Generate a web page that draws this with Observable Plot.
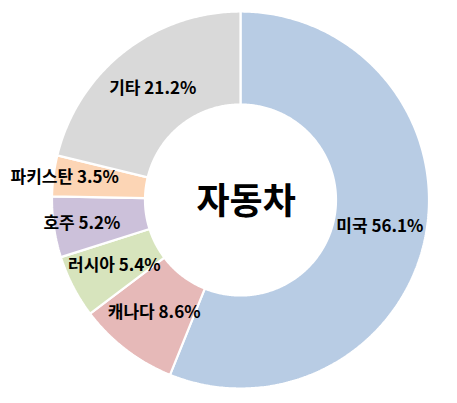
<!DOCTYPE html>
<html>
<head>
<meta charset="utf-8">
<script src="https://cdn.jsdelivr.net/npm/d3@7"></script>
<script src="https://cdn.jsdelivr.net/npm/@observablehq/plot@0.6"></script>
<style>
  html, body { margin: 0; padding: 0; background: #fff; }
  #chart { width: 457px; height: 403px; }
</style>
</head>
<body>
<div id="chart"></div>
<script>
// ---- data ----
const countries = ["미국", "캐나다", "러시아", "호주", "파키스탄", "기타"];
const shares = [56.1, 8.6, 5.4, 5.2, 3.5, 21.2];
const centerTitle = "자동차";

// ---- styles / layout ----
const colors = ["#b8cce4", "#e6b9b8", "#d7e4bd", "#ccc1da", "#fcd5b5", "#d9d9d9"];
const W = 457, H = 403;
const cx = 240, cy = 199.5, R = 188.5;
const innerRatio = 95.5 / 188.5;
const labelRadiusOverride = {"호주": 0.85, "파키스탄": 0.94};

const rows = countries.map((c, i) => ({country: c, share: shares[i], color: colors[i]}));
const pie = d3.pie().sort(null).value(d => d.share)(rows);

const polys = [];
const labels = [];
pie.forEach(p => {
  const n = Math.max(8, Math.ceil((p.endAngle - p.startAngle) / 0.01));
  const pts = [];
  for (let k = 0; k <= n; k++) {
    const a = p.startAngle + (p.endAngle - p.startAngle) * k / n;
    pts.push([Math.sin(a), Math.cos(a)]);
  }
  for (let k = n; k >= 0; k--) {
    const a = p.startAngle + (p.endAngle - p.startAngle) * k / n;
    pts.push([innerRatio * Math.sin(a), innerRatio * Math.cos(a)]);
  }
  pts.forEach(([x, y], j) => polys.push({country: p.data.country, color: p.data.color, x, y, j}));
  const mid = (p.startAngle + p.endAngle) / 2;
  const lr = labelRadiusOverride[p.data.country] ?? (1 + innerRatio) / 2;
  labels.push({
    text: `${p.data.country} ${p.data.share.toFixed(1)}%`,
    x: lr * Math.sin(mid),
    y: lr * Math.cos(mid)
  });
});

const chart = Plot.plot({
  width: W,
  height: H,
  margin: 0,
  style: {background: "#fff", overflow: "visible"},
  x: {domain: [-1, 1], range: [cx - R, cx + R], axis: null},
  y: {domain: [-1, 1], range: [cy + R, cy - R], axis: null},
  marks: [
    Plot.line(polys, {
      x: "x", y: "y", z: "country",
      fill: d => d.color,
      stroke: "#ffffff",
      strokeWidth: 2.2,
      strokeLinejoin: "miter",
      curve: "linear-closed"
    }),
    Plot.text(labels, {
      x: "x", y: "y", text: "text",
      fontSize: 17,
      fontWeight: "bold",
      fontFamily: "'Noto Sans CJK KR', 'Noto Sans', sans-serif",
      fill: "#000"
    }),
    Plot.text([centerTitle], {
      x: () => 0.03, y: () => -0.015, text: d => d,
      fontSize: 36,
      fontWeight: "bold",
      fontFamily: "'Noto Sans CJK KR', sans-serif",
      fill: "#000"
    })
  ]
});
chart.style.fill = "";
document.getElementById("chart").appendChild(chart);
</script>
</body>
</html>
